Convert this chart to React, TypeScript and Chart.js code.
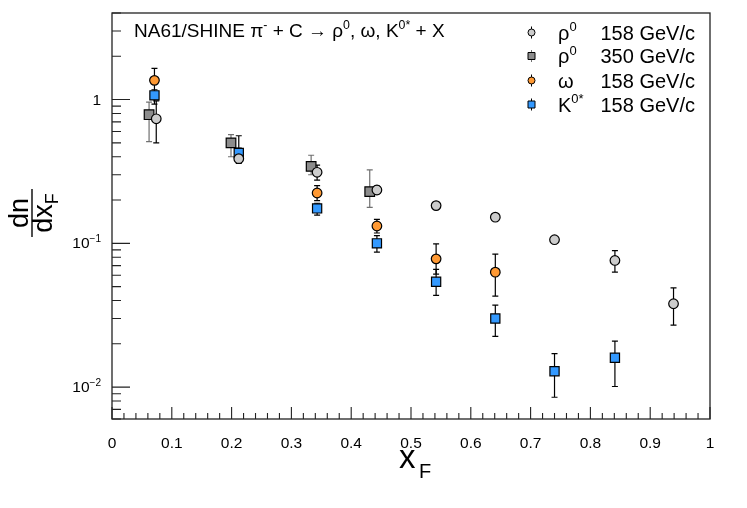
import { useEffect, useRef } from "react";
import { Chart, registerables } from "chart.js";

Chart.register(...registerables);

// rho0 158 GeV/c
const rho158X = [0.074, 0.212, 0.343, 0.443, 0.542, 0.641, 0.740, 0.841, 0.939];
const rho158Y = [0.735, 0.388, 0.312, 0.235, 0.183, 0.152, 0.106, 0.076, 0.038];
const rho158Lo = [0.50, 0.36, 0.275, 0.222, 0.178, 0.147, 0.102, 0.063, 0.027];
const rho158Hi = [0.98, 0.56, 0.35, 0.25, 0.188, 0.157, 0.110, 0.089, 0.049];

// rho0 350 GeV/c
const rho350X = [0.062, 0.199, 0.333, 0.431];
const rho350Y = [0.785, 0.50, 0.343, 0.229];
const rho350Lo = [0.51, 0.40, 0.30, 0.178];
const rho350Hi = [0.96, 0.57, 0.41, 0.324];

// omega 158 GeV/c
const omegaX = [0.071, 0.343, 0.443, 0.542, 0.641];
const omegaY = [1.36, 0.224, 0.132, 0.078, 0.063];
const omegaLo = [1.05, 0.198, 0.118, 0.061, 0.043];
const omegaHi = [1.65, 0.252, 0.147, 0.099, 0.084];

// K0* 158 GeV/c
const kX = [0.071, 0.212, 0.343, 0.443, 0.542, 0.641, 0.740, 0.841];
const kY = [1.07, 0.425, 0.175, 0.100, 0.054, 0.030, 0.0129, 0.016];
const kLo = [0.93, 0.39, 0.157, 0.087, 0.0435, 0.0225, 0.0085, 0.0101];
const kHi = [1.17, 0.46, 0.19, 0.113, 0.066, 0.0372, 0.0171, 0.0209];

const xTicks = [0, 0.1, 0.2, 0.3, 0.4, 0.5, 0.6, 0.7, 0.8, 0.9, 1];
const xTickLabels = ["0", "0.1", "0.2", "0.3", "0.4", "0.5", "0.6", "0.7", "0.8", "0.9", "1"];
const yTicks = [1, 0.1, 0.01];
const yTickBase = ["1", "10", "10"];
const yTickExp = ["", "\u22121", "\u22122"];

const legendGreek = ["\u03c1", "\u03c1", "\u03c9", "K"];
const legendSup = ["0", "0", "", "0*"];
const legendEnergy = ["158 GeV/c", "350 GeV/c", "158 GeV/c", "158 GeV/c"];

const FONT = '"Liberation Sans", Arial, sans-serif';

const pts = (xs: number[], ys: number[], lo: number[], hi: number[]) =>
    xs.map((x, i) => ({x, y: ys[i], lo: lo[i], hi: hi[i]}));

type Part = { t: string, s?: 'sup' | 'sub' };

const drawRich = (ctx: CanvasRenderingContext2D, x: number, y: number, parts: Part[], size: number, align: 'left' | 'right' | 'center' = 'left') => {
    const widths = parts.map(p => {
        ctx.font = `${p.s ? size * 0.65 : size}px ${FONT}`;
        return ctx.measureText(p.t).width;
    });
    const total = widths.reduce((a, b) => a + b, 0);
    let cx = align === 'left' ? x : align === 'right' ? x - total : x - total / 2;
    ctx.textAlign = 'left';
    ctx.textBaseline = 'alphabetic';
    parts.forEach((p, i) => {
        ctx.font = `${p.s ? size * 0.65 : size}px ${FONT}`;
        const dy = p.s === 'sup' ? -size * 0.42 : p.s === 'sub' ? size * 0.3 : 0;
        ctx.fillText(p.t, cx, y + dy);
        cx += widths[i];
    });
};

const rootStyle = {
    id: 'rootStyle',
    beforeDatasetsDraw(chart: any) {
        const ctx = chart.ctx;
        const xs = chart.scales.x;
        const ys = chart.scales.y;
        chart.data.datasets.forEach((ds: any) => {
            ctx.save();
            ctx.strokeStyle = ds.errColor;
            ctx.lineWidth = 1.2;
            ds.data.forEach((p: any) => {
                const px = xs.getPixelForValue(p.x);
                const y1 = ys.getPixelForValue(p.lo);
                const y2 = ys.getPixelForValue(p.hi);
                ctx.beginPath();
                ctx.moveTo(px, y1);
                ctx.lineTo(px, y2);
                ctx.moveTo(px - 3, y1);
                ctx.lineTo(px + 3, y1);
                ctx.moveTo(px - 3, y2);
                ctx.lineTo(px + 3, y2);
                ctx.stroke();
            });
            ctx.restore();
        });
    },
    afterDraw(chart: any) {
        const ctx: CanvasRenderingContext2D = chart.ctx;
        const {left, right, top, bottom} = chart.chartArea;
        const xs = chart.scales.x;
        const ys = chart.scales.y;
        ctx.save();
        ctx.strokeStyle = '#222';
        ctx.fillStyle = '#000';
        ctx.lineWidth = 1.3;
        ctx.strokeRect(left, top, right - left, bottom - top);

        // x ticks
        ctx.lineWidth = 1.1;
        ctx.beginPath();
        for (let i = 0; i <= 50; i++) {
            const v = i * 0.02;
            const px = xs.getPixelForValue(v);
            const len = i % 5 === 0 ? 12 : 6;
            ctx.moveTo(px, bottom);
            ctx.lineTo(px, bottom - len);
        }
        // y ticks
        for (let e = -3; e <= 0; e++) {
            for (let k = 1; k <= 9; k++) {
                const v = k * Math.pow(10, e);
                if (v < ys.min || v > ys.max) continue;
                const py = ys.getPixelForValue(v);
                ctx.moveTo(left, py);
                ctx.lineTo(left + (k === 1 ? 18 : 9), py);
            }
        }
        ctx.stroke();

        xTicks.forEach((v, i) => {
            drawRich(ctx, xs.getPixelForValue(v), 448, [{t: xTickLabels[i]}], 15.5, 'center');
        });
        yTicks.forEach((v, i) => {
            const py = ys.getPixelForValue(v) + 5;
            const parts: Part[] = [{t: yTickBase[i]}];
            if (yTickExp[i]) parts.push({t: yTickExp[i], s: 'sup'});
            drawRich(ctx, 101, py, parts, 15.5, 'right');
        });

        // axis titles
        drawRich(ctx, 399, 468, [{t: 'x'}], 33, 'left');
        drawRich(ctx, 419, 478, [{t: 'F'}], 20, 'left');

        ctx.save();
        ctx.translate(32, 213);
        ctx.rotate(-Math.PI / 2);
        drawRich(ctx, 0, -4, [{t: 'dn'}], 27, 'center');
        ctx.lineWidth = 1.6;
        ctx.beginPath();
        ctx.moveTo(-24, 0);
        ctx.lineTo(24, 0);
        ctx.stroke();
        ctx.font = `27px ${FONT}`;
        const dxw = ctx.measureText('dx').width;
        ctx.font = `18px ${FONT}`;
        const fw = ctx.measureText('F').width;
        const start = -(dxw + fw) / 2;
        drawRich(ctx, start, 20, [{t: 'dx'}], 27, 'left');
        drawRich(ctx, start + dxw, 26, [{t: 'F'}], 18, 'left');
        ctx.restore();

        // header text
        drawRich(ctx, 134, 37, [
            {t: 'NA61/SHINE \u03c0'}, {t: '-', s: 'sup'}, {t: ' + C \u2192 \u03c1'}, {t: '0', s: 'sup'},
            {t: ', \u03c9, K'}, {t: '0*', s: 'sup'}, {t: ' + X'}
        ], 19, 'left');

        // legend
        const rows = [32.5, 56, 80.5, 104.5];
        chart.data.datasets.forEach((ds: any) => {
            const r = ds.legendRow;
            const y = rows[r];
            const mx = 531.5;
            ctx.strokeStyle = ds.errColor;
            ctx.lineWidth = 1;
            ctx.beginPath();
            ctx.moveTo(mx, y - 6);
            ctx.lineTo(mx, y + 6);
            ctx.stroke();
            ctx.fillStyle = ds.backgroundColor;
            ctx.strokeStyle = '#000';
            ctx.beginPath();
            if (ds.pointStyle === 'rect') ctx.rect(mx - 3.5, y - 3.5, 7, 7);
            else ctx.arc(mx, y, 3.5, 0, Math.PI * 2);
            ctx.fill();
            ctx.stroke();
            ctx.fillStyle = '#000';
            const parts: Part[] = [{t: legendGreek[r]}];
            if (legendSup[r]) parts.push({t: legendSup[r], s: 'sup'});
            drawRich(ctx, 558, y + 7, parts, 20, 'left');
            drawRich(ctx, 695, y + 7, [{t: legendEnergy[r]}], 20, 'right');
        });
        ctx.restore();
    }
};

const App = () => {
    const canvasRef = useRef<HTMLCanvasElement>(null);

    useEffect(() => {
        document.body.style.margin = '0';
        const ctx = canvasRef.current;
        if (!ctx) return;

        const common = {borderColor: '#000', borderWidth: 1.2, showLine: false};
        // Chart.js paints the first dataset on top
        const myChart = new Chart(ctx, {
            type: 'scatter',
            data: {
                datasets: [
                    {...common, data: pts(rho158X, rho158Y, rho158Lo, rho158Hi), pointStyle: 'circle', pointRadius: 4.8, backgroundColor: '#cccccc', errColor: '#000', legendRow: 0} as any,
                    {...common, data: pts(kX, kY, kLo, kHi), pointStyle: 'rect', pointRadius: 6.5, backgroundColor: '#3399ff', errColor: '#000', legendRow: 3} as any,
                    {...common, data: pts(omegaX, omegaY, omegaLo, omegaHi), pointStyle: 'circle', pointRadius: 4.8, backgroundColor: '#ff9933', errColor: '#000', legendRow: 2} as any,
                    {...common, data: pts(rho350X, rho350Y, rho350Lo, rho350Hi), pointStyle: 'rect', pointRadius: 6.8, backgroundColor: '#8c8c8c', errColor: '#707070', legendRow: 1} as any,
                ]
            },
            options: {
                responsive: false,
                animation: false,
                layout: {padding: {left: 112, right: 37, top: 13, bottom: 89}},
                plugins: {legend: {display: false}, tooltip: {enabled: false}},
                scales: {
                    x: {type: 'linear', min: 0, max: 1, display: false},
                    y: {type: 'logarithmic', min: 0.006, max: 4, display: false}
                }
            },
            plugins: [rootStyle]
        });
        return () => {
            myChart.destroy();
        };
    }, []);

    return (
        <div style={{width: 747, height: 508, background: '#fff'}}>
            <canvas ref={canvasRef} width={747} height={508} style={{display: 'block'}}></canvas>
        </div>
    );
};

export default App;
